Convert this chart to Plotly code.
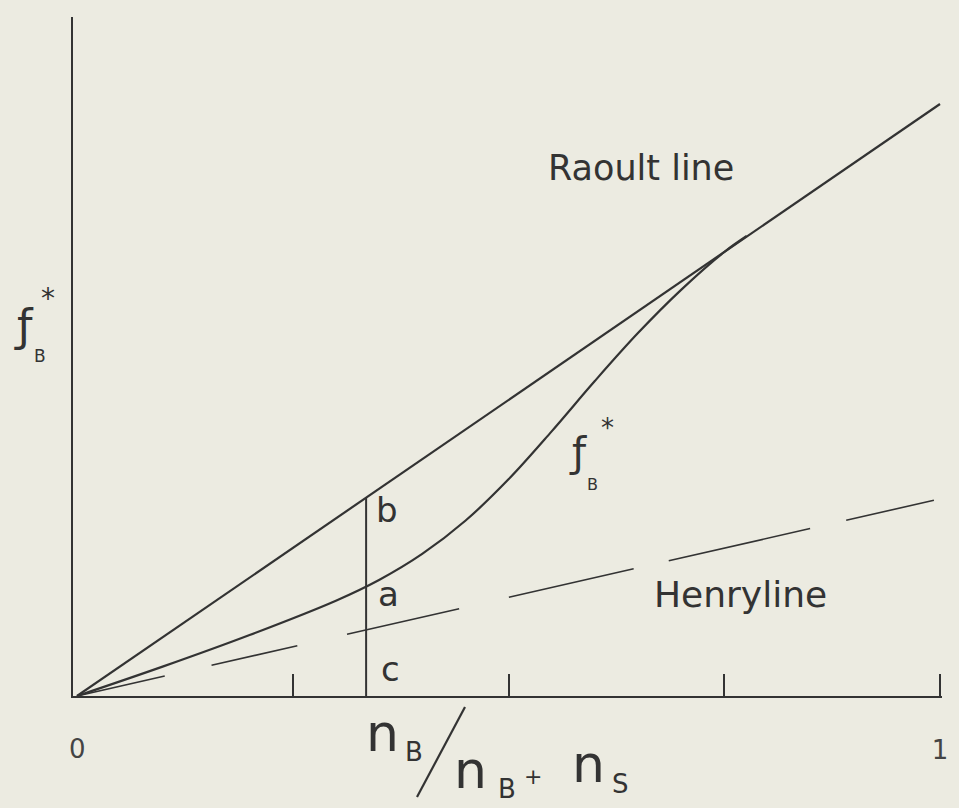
import plotly.graph_objects as go

# Mole fraction axis ticks (the origin label is placed separately)
tick_vals = [0.25, 0.5, 0.75, 1.0]
tick_text = ["", "", "", "1"]
origin_label = "0"

# Raoult line (ideal behaviour)
raoult_x = [0.0, 1.0]
raoult_y = [0.0, 1.0]

# Henry line (limiting dilute behaviour)
henry_x = [0.0, 1.0]
henry_y = [0.0, 0.333]

# Actual fugacity curve f_B*, joining the Raoult line near x = 0.78
fb_x = [0.0, 0.10, 0.20, 0.30, 0.35, 0.40, 0.45, 0.50, 0.55, 0.60, 0.65, 0.70, 0.75, 0.776]
fb_y = [0.0, 0.050, 0.103, 0.161, 0.196, 0.240, 0.296, 0.366, 0.447, 0.532, 0.613, 0.686, 0.750, 0.777]

# Composition marked by the vertical construction line (points c, a, b)
mark_x = 0.335

INK = "#333333"
PAPER = "#ecebe1"
FONT = "DejaVu Sans"

W, H = 959, 808
ML, MR, MT, MB = 73, 17, 17, 112
X0_PX, X1_PX = 77, 940      # pixel positions of x = 0 and x = 1
Y0_PX, Y_UNIT = 696, 592    # pixel of y = 0 and pixels per unit


def paper(xp, yp):
    """Convert a pixel location on the page to paper coordinates."""
    return (xp - ML) / (W - ML - MR), (H - MB - yp) / (H - MT - MB)


x_range = [(ML - X0_PX) / (X1_PX - X0_PX), (W - MR - X0_PX) / (X1_PX - X0_PX)]
y_range = [0, (Y0_PX - MT) / Y_UNIT]

fig = go.Figure()

fig.add_trace(go.Scatter(x=raoult_x, y=raoult_y, mode="lines",
                         line=dict(color=INK, width=2.2), hoverinfo="skip"))
fig.add_trace(go.Scatter(x=henry_x, y=henry_y, mode="lines",
                         line=dict(color=INK, width=1.6,
                                   dash="90px,48px,88px,51px,115px,51px,128px,36px,145px,37px,90px"),
                         hoverinfo="skip"))
fig.add_trace(go.Scatter(x=fb_x, y=fb_y, mode="lines",
                         line=dict(color=INK, width=2.2, shape="spline", smoothing=1.0),
                         hoverinfo="skip"))
fig.add_trace(go.Scatter(x=[mark_x, mark_x], y=[0, mark_x], mode="lines",
                         line=dict(color=INK, width=2), hoverinfo="skip"))

annotations = []


def label(text, xp, yp, size, color=INK, **kw):
    px, py = paper(xp, yp)
    annotations.append(dict(text=text, x=px, y=py, xref="paper", yref="paper",
                            showarrow=False, xanchor="center", yanchor="middle",
                            font=dict(family=FONT, size=size, color=color), **kw))


# Origin of the composition axis
label(origin_label, 77, 749, 26, color="#444444")

# Line names
label("Raoult line", 641, 168, 35)
label("Henryline", 740, 594, 36)

# Points on the construction line
label("b", 387, 510, 34)
label("a", 388, 594, 34)
label("c", 390, 669, 34)

# Curve label f_B*
label("ƒ", 578, 452, 40)
label("*", 607, 428, 26)
label("B", 592, 484, 16)

# Vertical axis label f_B*
label("ƒ", 24, 325, 44)
label("*", 48, 298, 28)
label("B", 40, 356, 17)

# Horizontal axis label n_B / (n_B + n_S)
label("n", 382, 733, 52)
label("B", 414, 752, 26)
label("n", 470, 770, 52)
label("B", 507, 789, 26)
label("+", 533, 776, 22)
label("n", 588, 764, 52)
label("S", 620, 784, 26)

fig.update_layout(annotations=annotations)

# Fraction bar of the horizontal axis label
sx0, sy0 = paper(417, 797)
sx1, sy1 = paper(465, 707)
fig.add_shape(type="line", xref="paper", yref="paper", x0=sx0, y0=sy0, x1=sx1, y1=sy1,
              line=dict(color=INK, width=2.2))

fig.update_layout(
    width=W, height=H,
    margin=dict(l=ML, r=MR, t=MT, b=MB),
    paper_bgcolor=PAPER, plot_bgcolor=PAPER,
    showlegend=False,
    xaxis=dict(range=x_range, tickvals=tick_vals, ticktext=tick_text,
               ticks="inside", ticklen=22, tickwidth=2, tickcolor=INK,
               ticklabelstandoff=30,
               showline=True, linecolor=INK, linewidth=2.2,
               showgrid=False, zeroline=False,
               tickfont=dict(family=FONT, size=26, color="#444444")),
    yaxis=dict(range=y_range, showticklabels=False, ticks="",
               showline=True, linecolor=INK, linewidth=2.2,
               showgrid=False, zeroline=False),
)

fig.write_html("out.html")
